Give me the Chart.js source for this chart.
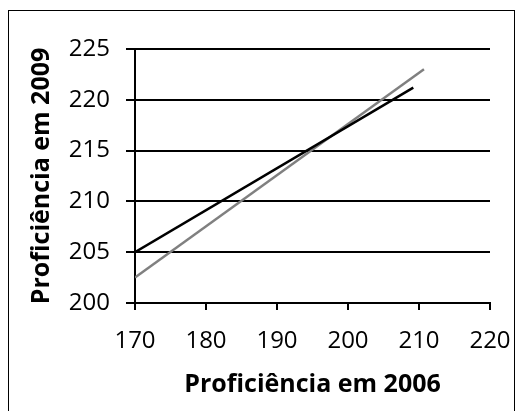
<!DOCTYPE html>
<html>
<head>
<meta charset="utf-8">
<script src="https://cdn.jsdelivr.net/npm/chart.js@4/dist/chart.umd.min.js"></script>
<style>
  body { margin: 0; background: #fff; }
  canvas { display: block; }
</style>
</head>
<body>
<canvas id="grafico" width="519" height="411"></canvas>
<script>
// dados
const xPreta = [170, 209.2];
const yPreta = [205, 221.2];
const xCinza = [170, 210.7];
const yCinza = [202.5, 223.0];
const ticksX = [170, 180, 190, 200, 210, 220];
const ticksY = [200, 205, 210, 215, 220, 225];

function pontos(xs, ys) {
  var arr = [];
  for (let i = 0; i < xs.length; i++) {
    arr.push({x: xs[i], y: ys[i]});
  }
  return arr;
}

// moldura externa
const moldura = {
  id: "moldura",
  beforeDraw(chart) {
    const ctx = chart.ctx;
    ctx.save();
    ctx.fillStyle = "#fff";
    ctx.fillRect(0, 0, chart.width, chart.height);
    ctx.strokeStyle = "#000";
    ctx.lineWidth = 1;
    ctx.strokeRect(8.5, 10.5, 506, 430);
    ctx.restore();
  }
};

const fonteTick = {family: "'Open Sans'", size: 24};
const fonteTitulo = {family: "'Open Sans'", size: 25, weight: "bold"};

new Chart("grafico", {
  type: "scatter",
  data: {
    datasets: [{
      label: "preta",
      data: pontos(xPreta, yPreta),
      showLine: true,
      borderColor: "#000",
      borderWidth: 2.5,
      pointRadius: 0,
      fill: false
    }, {
      label: "cinza",
      data: pontos(xCinza, yCinza),
      showLine: true,
      borderColor: "#808080",
      borderWidth: 2.5,
      pointRadius: 0,
      fill: false
    }]
  },
  options: {
    responsive: false,
    animation: false,
    layout: {padding: {top: 49, right: 29, left: 0, bottom: 0}},
    plugins: {legend: {display: false}, tooltip: {enabled: false}},
    scales: {
      x: {
        type: "linear",
        min: 170,
        max: 220,
        afterBuildTicks(scale) { scale.ticks = ticksX.map(v => ({value: v})); },
        afterFit(scale) {
          scale.height = 108;
          scale.paddingLeft = 0;
          scale.paddingRight = 0;
        },
        ticks: {color: "#000", font: fonteTick, padding: 17, maxRotation: 0},
        grid: {drawOnChartArea: false, drawTicks: true, tickLength: 7, color: "#000", lineWidth: 2},
        border: {color: "#000", width: 2},
        title: {display: true, text: "Proficiência em 2006", color: "#000", font: fonteTitulo, padding: {top: 0, bottom: 11}}
      },
      y: {
        type: "linear",
        min: 200,
        max: 225,
        afterBuildTicks(scale) { scale.ticks = ticksY.map(v => ({value: v})); },
        afterFit(scale) {
          scale.width = 135;
          scale.paddingTop = 0;
          scale.paddingBottom = 0;
        },
        ticks: {color: "#000", font: fonteTick, padding: 16},
        grid: {drawTicks: true, tickLength: 9, color: "#000", lineWidth: 2},
        border: {color: "#000", width: 2},
        title: {display: true, text: "Proficiência em 2009", color: "#000", font: fonteTitulo, padding: {top: 27, bottom: 0}}
      }
    }
  },
  plugins: [moldura]
});
</script>
</body>
</html>
